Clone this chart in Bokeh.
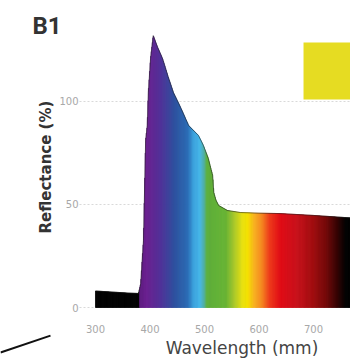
import numpy as np
from bokeh.plotting import figure
from bokeh.models import Label, Arrow, BoxAnnotation, FixedTicker, ColumnDataSource, Range1d
from bokeh.embed import file_html
from bokeh.resources import INLINE

# ---- data ----
wavelength = [300, 330, 360, 379, 383, 388, 392, 395, 397, 401, 406, 414, 423, 433,
              443, 456, 471, 489, 498, 507, 515, 517, 521, 526, 542, 566, 600, 639, 700, 768]
reflectance = [8.0, 7.5, 7.0, 6.8, 11.6, 32.4, 80.9, 88.1, 104.1, 120.6, 131.7, 126.0, 120.6, 112.0,
               104.1, 97.0, 88.1, 83.3, 78.5, 72.2, 63.9, 55.7, 52.0, 49.4, 47.0, 46.0, 45.7, 45.5, 44.6, 43.4]
x_ticks = [300, 400, 500, 600, 700]
y_ticks = [0, 50, 100]
x_title = "Wavelength (mm)"
y_title = "Reflectance (%)"
panel_label = "B1"

# ---- spectrum colour stops (style) ----
stops = [
    (300, "#000000"), (380.9, "#000000"), (381, "#5e1a80"), (395, "#6a2090"), (420, "#503098"),
    (445, "#2d4f9e"), (470, "#2a6cb5"), (480, "#3aa0dc"), (492, "#45b8e8"), (500, "#50b0a0"),
    (505, "#5cae3a"), (540, "#68b433"), (555, "#a8c82a"), (570, "#e8e010"), (580, "#f5e000"),
    (592, "#f8b020"), (605, "#f58a20"), (620, "#ee3a1a"), (640, "#e00a14"), (670, "#c8101a"),
    (700, "#a00c0e"), (725, "#700808"), (745, "#300202"), (760, "#000000"), (800, "#000000"),
]
sw = np.array([s[0] for s in stops], dtype=float)
srgb = np.array([[int(h[1:3], 16), int(h[3:5], 16), int(h[5:7], 16)] for _, h in stops], dtype=float)

def spec_color(l):
    r = np.interp(l, sw, srgb[:, 0]); g = np.interp(l, sw, srgb[:, 1]); b = np.interp(l, sw, srgb[:, 2])
    return "#%02x%02x%02x" % (int(round(r)), int(round(g)), int(round(b)))

left = np.arange(wavelength[0], wavelength[-1], 1.0)
right = left + 1.0
top = np.interp(left + 0.5, wavelength, reflectance)
colors = [spec_color(l + 0.5) for l in left]
strips = ColumnDataSource(dict(left=left, right=right, top=top, bottom=np.zeros_like(top), color=colors))

# the frame covers the whole canvas (the panel is a crop of a larger figure);
# axes are pinned at the edges of the data area
p = figure(width=350, height=364, output_backend="svg", toolbar_location=None,
           x_range=Range1d(125.7, 767.9), y_range=Range1d(-27.6, 148.7),
           min_border_left=0, min_border_right=0, min_border_top=0, min_border_bottom=0)
p.outline_line_color = None
p.background_fill_color = "white"

p.xgrid.visible = False
grid = p.ygrid[0]
grid.ticker = FixedTicker(ticks=y_ticks)
grid_style = dict(line_color="#cfcfcf", line_dash="2 2", line_alpha=0.8, line_width=1)
if "cross_bounds" in grid.properties():
    grid.cross_bounds = (270, 768)
    grid.grid_line_color = grid_style["line_color"]
    grid.grid_line_dash = grid_style["line_dash"]
    grid.grid_line_alpha = grid_style["line_alpha"]
else:
    grid.visible = False
    p.segment(x0=[270] * len(y_ticks), x1=[768] * len(y_ticks), y0=y_ticks, y1=y_ticks, **grid_style)

p.quad(left="left", right="right", top="top", bottom="bottom", color="color",
       line_color="color", line_width=0.6, source=strips)
p.line(wavelength, reflectance, line_color="#1e1e1e", line_width=1, line_alpha=0.55)

p.xaxis.fixed_location = -0.97
p.yaxis.fixed_location = 287.2
p.xaxis.ticker = FixedTicker(ticks=x_ticks)
p.yaxis.ticker = FixedTicker(ticks=y_ticks)

for ax in (p.xaxis[0], p.yaxis[0]):
    ax.axis_line_color = None
    ax.major_tick_line_color = None
    ax.minor_tick_line_color = None
    ax.major_label_text_font = "DejaVu Sans"
    ax.major_label_text_font_size = "10px"
    ax.major_label_text_color = "#a8a8a8"

p.xaxis.major_label_standoff = 9
p.yaxis.major_label_standoff = 4

# axis titles (placed like the original, which was off-centre because the panel is cropped)
p.add_layout(Label(x=568.8, y=-19.4, text=x_title, text_font="DejaVu Sans",
                   text_font_size="17px", text_color="#444444",
                   text_align="center", text_baseline="middle"))
p.add_layout(Label(x=208.3, y=68.0, text=y_title, text_font="DejaVu Sans",
                   text_font_style="bold", text_font_size="15px", text_color="#333333",
                   text_align="center", text_baseline="middle", angle=np.pi / 2))

# colour swatch inset
p.add_layout(BoxAnnotation(left=681.7, right=800, bottom=100.7, top=128.3,
                           fill_color="#e6dc22", fill_alpha=1, line_color=None))

# panel label
p.add_layout(Label(x=184.4, y=143.3, text=panel_label,
                   text_font="Roboto", text_font_style="bold", text_font_size="24px",
                   text_color="#333333", text_baseline="top", text_align="left"))

# decorative stroke at lower left
p.add_layout(Arrow(x_start=125.7, y_start=-21.8, x_end=217.4, y_end=-13.6,
                   end=None, line_color="#111111", line_width=2))

open("out.html", "w").write(file_html(p, INLINE))
